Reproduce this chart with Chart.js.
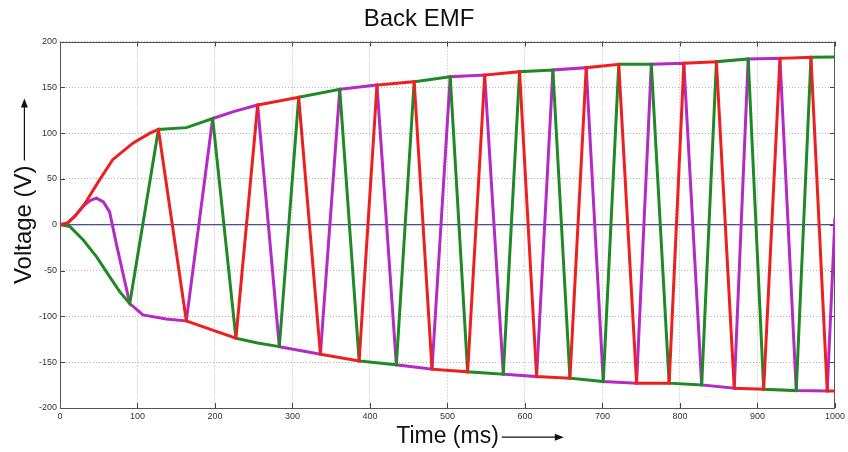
<!DOCTYPE html>
<html><head><meta charset="utf-8">
<script src="https://cdn.jsdelivr.net/npm/chart.js@4"></script>
<style>html,body{margin:0;padding:0;background:#fff}#wrap{width:848px;height:452px;position:relative}</style>
</head><body><div id="wrap"><canvas id="c"></canvas></div>
<script>
// ---- data ----
const chartTitle = "Back EMF";
const xTitle = "Time (ms)";
const yTitle = "Voltage (V)";
const xTicks = [0,100,200,300,400,500,600,700,800,900,1000];
const yTicks = [-200,-150,-100,-50,0,50,100,150,200];

const redT = [0,10,20,32,51,68,94,116,127,163,197,227,255,308,336,386,409,457,480,526,548,593,615,658,679,721,744,786,805,847,870,908,929,969,990,1000];
const redV = [0,2,10,23,49,71,89,100,104,-105,-115,-123.8,130.7,139.1,-141.3,-148.6,152.5,156.1,-157.6,-160.5,163.4,167,-165.7,-167.5,171.4,175.1,-172.9,-172.9,176.2,177.9,-178.4,-179.5,181.6,182.7,-181.4,-181.5];

const greenT = [0,13,30,47,64,77,90,127,163,197,227,255,283,308,361,386,434,457,503.5,526,572,593,636,658,701,721,763,786,828,847,888,908,950,969,1000];
const greenV = [0,-2,-16.6,-34.8,-56.6,-73,-86,104,106,116,-123.8,-129,-133,139.1,147.8,-148.6,-152.9,156.1,161.5,-160.5,-163.1,167,168.9,-167.5,-171.2,175.1,175.1,-172.9,-174.8,177.9,180.9,-179.5,-181,182.7,183];

const magentaT = [0,10,20,32,40,47,56,64,73,90,107,137,163,197,226,255,283,336,361,409,434,480,503.5,548,572,615,636,679,701,744,763,805,828,870,888,929,950,990,1000];
const magentaV = [0,2,10,22,27,29,25,14,-22,-86,-98.4,-102.8,-105,116,124,130.7,-133,-141.3,147.8,152.5,-152.9,-157.6,161.5,163.4,-163.1,-165.7,168.9,171.4,-171.2,-172.9,175.1,176.2,-174.8,-178.4,180.9,181.6,-181,-181.4,8];

const zeroT = [0,1000];
const zeroV = [0,0];

const pts = (t,v) => t.map((x,i)=>({x:x,y:v[i]}));

const TICK_FONT = {family:'"Liberation Sans Narrow","Liberation Sans",Arial,sans-serif', size:9};
const TITLE_FAMILY = '"Liberation Sans",Arial,sans-serif';

const decor = {
  id:'decor',
  beforeDatasetsDraw(chart){
    const {ctx, chartArea:a, scales:{x,y}} = chart;
    ctx.save();
    ctx.strokeStyle='#444'; ctx.lineWidth=1;
    ctx.beginPath();
    x.ticks.forEach(t=>{const p=Math.round(x.getPixelForValue(t.value))+0.5;
      ctx.moveTo(p,a.top); ctx.lineTo(p,a.top+5); ctx.moveTo(p,a.bottom); ctx.lineTo(p,a.bottom-5);});
    y.ticks.forEach(t=>{const p=Math.round(y.getPixelForValue(t.value))+0.5;
      ctx.moveTo(a.left,p); ctx.lineTo(a.left+5,p); ctx.moveTo(a.right,p); ctx.lineTo(a.right-5,p);});
    ctx.stroke();
    ctx.strokeStyle='#555';
    ctx.strokeRect(Math.round(a.left)+0.5, Math.round(a.top)+0.5, Math.round(a.right-a.left)-1, Math.round(a.bottom-a.top)-1);
    ctx.restore();
  },
  afterDraw(chart){
    const {ctx, chartArea:a, scales:{x,y}} = chart;
    ctx.save();
    ctx.strokeStyle='#111'; ctx.fillStyle='#111'; ctx.lineWidth=1.2;
    // x arrow
    ctx.font = '23px ' + TITLE_FAMILY;
    const wx = ctx.measureText(xTitle).width;
    const cx = (a.left+a.right)/2;
    const ty = x.bottom - (23*1.2/2 + 2) + 1;
    const x0 = cx + wx/2 + 3, x1 = x0 + 62;
    ctx.beginPath(); ctx.moveTo(x0,ty); ctx.lineTo(x1-7,ty); ctx.stroke();
    ctx.beginPath(); ctx.moveTo(x1,ty); ctx.lineTo(x1-9,ty-3.5); ctx.lineTo(x1-9,ty+3.5); ctx.closePath(); ctx.fill();
    // y arrow
    ctx.font = '24px ' + TITLE_FAMILY;
    const wy = ctx.measureText(yTitle).width;
    const cy = (a.top+a.bottom)/2;
    const tx = y.left + 24*1.2/2 + 12 - 2;
    const y0 = cy - wy/2 - 5, y1 = y0 - 62;
    ctx.beginPath(); ctx.moveTo(tx,y0); ctx.lineTo(tx,y1+7); ctx.stroke();
    ctx.beginPath(); ctx.moveTo(tx,y1); ctx.lineTo(tx-3.5,y1+9); ctx.lineTo(tx+3.5,y1+9); ctx.closePath(); ctx.fill();
    ctx.restore();
  }
};

const lineDs = (label, data, color, w) => ({
  label, data, borderColor: color, backgroundColor: color, borderWidth: w,
  pointRadius: 0, tension: 0, fill: false, borderJoinStyle: 'miter'
});

new Chart(document.getElementById('c'), {
  type: 'line',
  data: {
    datasets: [
      lineDs('Phase A', pts(redT, redV), '#ee1f1f', 3),
      lineDs('Phase B', pts(greenT, greenV), '#1f8a25', 3),
      lineDs('Phase C', pts(magentaT, magentaV), '#b42ac4', 3),
      lineDs('Zero', pts(zeroT, zeroV), '#1c1c80', 1)
    ]
  },
  options: {
    responsive: true, maintainAspectRatio: false, animation: false,
    layout: { padding: { left: 0, right: 10, top: 0, bottom: 0 } },
    plugins: {
      legend: { display: false },
      tooltip: { enabled: false },
      title: { display: true, text: chartTitle, color: '#111',
        font: { family: TITLE_FAMILY, size: 24, weight: 'normal' },
        padding: { top: 4.6, bottom: 8.1 } }
    },
    scales: {
      x: {
        type: 'linear', min: 0, max: 1000,
        afterBuildTicks: s => { s.ticks = xTicks.map(v=>({value:v})); },
        afterFit: s => { s.height = 44; },
        ticks: { font: TICK_FONT, color: '#333', padding: 3, maxRotation: 0, autoSkip: false,
          callback: v => String(v) },
        grid: { color: '#b5b5b5', drawTicks: false, lineWidth: 1 },
        border: { display: false, dash: [1,2] },
        title: { display: true, text: xTitle, color: '#111',
          font: { family: TITLE_FAMILY, size: 23 }, padding: { top: 0, bottom: 2 } }
      },
      y: {
        type: 'linear', min: -200, max: 200,
        afterBuildTicks: s => { s.ticks = yTicks.map(v=>({value:v})); },
        afterFit: s => { s.width = 60; },
        ticks: { font: TICK_FONT, color: '#333', padding: 3, autoSkip: false,
          callback: v => String(v) },
        grid: { color: '#b5b5b5', drawTicks: false, lineWidth: 1 },
        border: { display: false, dash: [1,2] },
        title: { display: true, text: yTitle, color: '#111',
          font: { family: TITLE_FAMILY, size: 24 }, padding: { top: 10, bottom: 0 } }
      }
    }
  },
  plugins: [decor]
});
</script></body></html>
